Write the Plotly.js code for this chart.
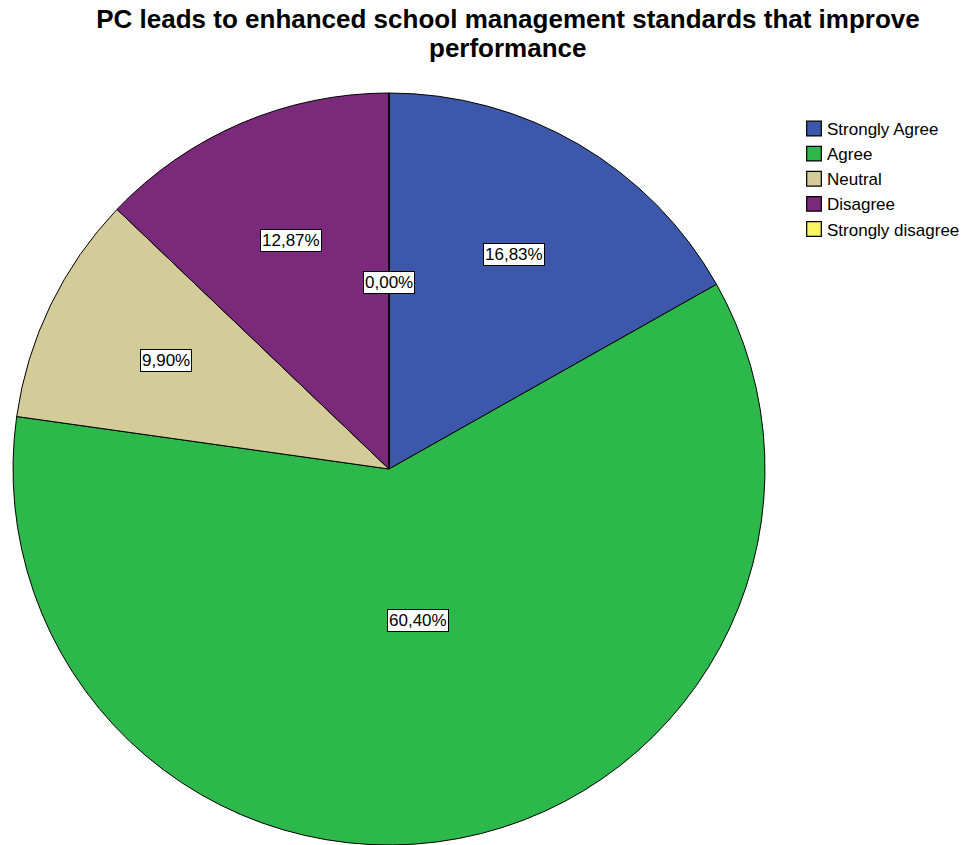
<!DOCTYPE html>
<html>
<head>
<meta charset="utf-8">
<script src="https://cdn.plot.ly/plotly-3.0.1.min.js"></script>
<style>
html,body{margin:0;padding:0;background:#fff;}
#chart{width:968px;height:845px;}
#chart .legendpoints path{transform:translate(27px,0) scale(1.22);}
</style>
</head>
<body>
<div id="chart"></div>
<script>
const categories = ["Strongly Agree", "Agree", "Neutral", "Disagree", "Strongly disagree"];
const percents = [16.83, 60.40, 9.90, 12.87, 0.00];
const labelTexts = ["16,83%", "60,40%", "9,90%", "12,87%", "0,00%"];
const colors = ["#3D58AB", "#2DB84B", "#D3CC98", "#7B2A7B", "#F8F462"];
const titleLine1 = "PC leads to enhanced school management standards that improve";
const titleLine2 = "performance";

const W = 968, H = 845;
const FONT = 'Liberation Sans, Arial, sans-serif';
const margin = {l: 13, r: 0, t: 93, b: 0};
const plotW = W - margin.l - margin.r, plotH = H - margin.t - margin.b;
const diameter = Math.min(plotW, plotH);
const R = diameter / 2;
const cx = margin.l + R, cy = margin.t + R;

// label positions computed from the data (mid-angle of each slice, clockwise from 12 o'clock)
const total = percents.reduce((a, b) => a + b, 0);
const annotations = [];
let cum = 0;
percents.forEach((p, i) => {
  const start = cum / total * 360;
  cum += p;
  const end = cum / total * 360;
  let mid = (start + end) / 2;
  let rf;
  if (p === 0) { rf = 0.495; mid = 0; }
  else if (p / total > 0.5) { rf = 0.41; }
  else { rf = 0.66; }
  const a = mid * Math.PI / 180;
  const px = cx + Math.sin(a) * R * rf;
  const py = cy - Math.cos(a) * R * rf;
  annotations.push({
    xref: 'paper', yref: 'paper',
    x: (px - margin.l) / plotW, y: 1 - (py - margin.t) / plotH,
    xanchor: 'center', yanchor: 'middle',
    text: labelTexts[i], showarrow: false,
    font: {family: FONT, size: 17, color: '#000'},
    bgcolor: '#ffffff', bordercolor: '#000000', borderwidth: 1, borderpad: 1
  });
});

// second title line (tight SPSS-style line spacing)
annotations.push({
  xref: 'paper', yref: 'paper',
  x: (508 - margin.l) / plotW, y: 1 - (48 - margin.t) / plotH,
  xanchor: 'center', yanchor: 'middle',
  text: '<b>' + titleLine2 + '</b>', showarrow: false,
  font: {family: FONT, size: 26, color: '#000'}
});

const trace = {
  type: 'pie',
  labels: categories,
  values: percents,
  sort: false,
  direction: 'clockwise',
  rotation: 0,
  textinfo: 'none',
  hoverinfo: 'label+percent',
  marker: {colors: colors, line: {color: '#000000', width: 1}},
  domain: {x: [0, diameter / plotW], y: [0, 1]},
  showlegend: true
};

const layout = {
  width: W, height: H,
  margin: margin,
  paper_bgcolor: '#ffffff',
  plot_bgcolor: '#ffffff',
  font: {family: FONT, color: '#000'},
  title: {
    text: '<b>' + titleLine1 + '</b>',
    font: {family: FONT, size: 26, color: '#000'},
    xref: 'container', x: 508 / W, xanchor: 'center',
    yref: 'container', y: 1 - 10 / H, yanchor: 'top'
  },
  legend: {
    x: (787 - margin.l) / plotW, xanchor: 'left',
    y: 1 - (111 - margin.t) / plotH, yanchor: 'top',
    font: {family: FONT, size: 17, color: '#000'},
    bgcolor: 'rgba(0,0,0,0)',
    tracegroupgap: 0
  },
  annotations: annotations
};

Plotly.newPlot('chart', [trace], layout, {displayModeBar: false, staticPlot: true});
</script>
</body>
</html>
